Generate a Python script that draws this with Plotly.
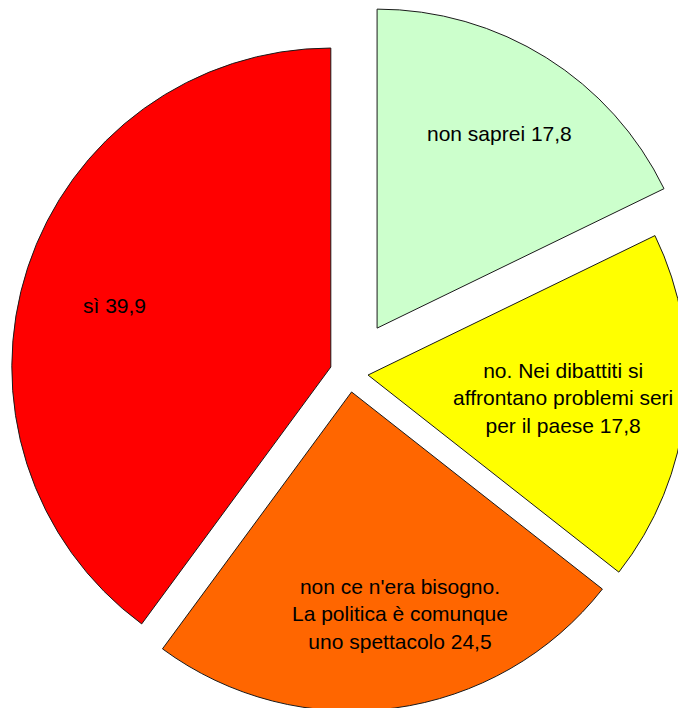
import math
import plotly.graph_objects as go

# ---- data ----
labels = [
    "non saprei",
    "no. Nei dibattiti si<br>affrontano problemi seri<br>per il paese",
    "non ce n'era bisogno.<br>La politica è comunque<br>uno spettacolo",
    "sì",
]
values = [17.8, 17.8, 24.5, 39.9]

# ---- style ----
colors = ["#CCFFCC", "#FFFF00", "#FF6600", "#FF0000"]
pulls = [0.166, 0.06, 0.06, 0.06]
label_r = [0.72, 0.70, 0.71, 0.70]
label_nudge = [(1, 0), (-27, -1), (18, -2), (-4, 8)]
OUTLINE = "#1a1a1a"
FONT = "Liberation Sans, Arial, sans-serif"
FONT_SIZE = 21

W, H = 760, 760
R = 319                 # pie radius in px
CX, CY = 349, 373       # unexploded centre in figure px

total = sum(values)
mids = []
acc = 0.0
for v in values:
    mids.append((acc + v / 2) / total * 2 * math.pi)
    acc += v


def unit(a):
    return math.sin(a), -math.cos(a)


def domain(cx, cy, half):
    return dict(x=[(cx - half) / W, (cx + half) / W],
                y=[(H - cy - half) / H, (H - cy + half) / H])


def fmt(v):
    return f"{v:.1f}".replace(".", ",")


n = len(values)
clear = "rgba(0,0,0,0)"

# trace A: every slice except the strongly exploded first one
pullA = [0.0] + pulls[1:]
colA = [clear] + colors[1:]
lwA = [0] + [1] * (n - 1)
maxA = max(pullA)
traceA = go.Pie(
    labels=[l.replace("<br>", " ") for l in labels], values=values, sort=False,
    direction="clockwise", rotation=0, pull=pullA,
    marker=dict(colors=colA, line=dict(color=OUTLINE, width=lwA)),
    textinfo="none", hoverinfo="skip", showlegend=False,
    domain=domain(CX, CY, R * (1 + maxA)),
)

# trace B: the first slice, drawn at its exploded position
ux, uy = unit(mids[0])
bx, by = CX + pulls[0] * R * ux, CY + pulls[0] * R * uy
colB = [colors[0]] + [clear] * (n - 1)
lwB = [1] + [0] * (n - 1)
traceB = go.Pie(
    labels=[l.replace("<br>", " ") for l in labels], values=values, sort=False,
    direction="clockwise", rotation=0,
    marker=dict(colors=colB, line=dict(color=OUTLINE, width=lwB)),
    textinfo="none", hoverinfo="skip", showlegend=False,
    domain=domain(bx, by, R),
)

annotations = []
for i in range(n):
    ux, uy = unit(mids[i])
    tx = CX + pulls[i] * R * ux
    ty = CY + pulls[i] * R * uy
    lx = tx + label_r[i] * R * ux + label_nudge[i][0]
    ly = ty + label_r[i] * R * uy + label_nudge[i][1]
    annotations.append(dict(
        x=lx / W, y=1 - ly / H, xref="paper", yref="paper",
        text=f"{labels[i]} {fmt(values[i])}", showarrow=False,
        xanchor="center", yanchor="middle", align="center",
        font=dict(family=FONT, size=FONT_SIZE, color="#000000"),
    ))

fig = go.Figure([traceA, traceB])
fig.update_layout(
    width=W, height=H, margin=dict(l=0, r=0, t=0, b=0),
    paper_bgcolor="white", plot_bgcolor="white",
    showlegend=False, annotations=annotations,
)
fig.write_html(
    "out.html",
    post_script="document.body.style.margin='0';"
                "document.documentElement.style.overflow='hidden';",
)
